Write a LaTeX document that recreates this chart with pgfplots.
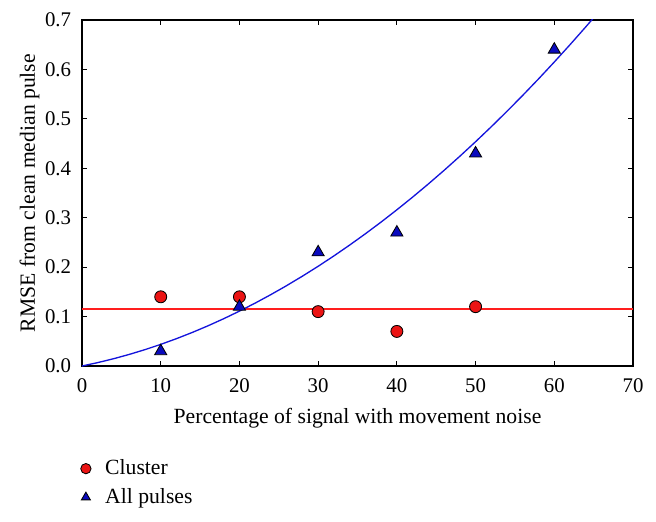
\documentclass[border=0pt]{standalone}
\usepackage{fontspec}
\setmainfont{Liberation Serif}
\usepackage{pgfplots}
\pgfplotsset{compat=1.18}
\definecolor{ptred}{RGB}{235,20,20}
\definecolor{ptblue}{RGB}{10,10,190}
\definecolor{fitblue}{RGB}{20,20,220}
\definecolor{fitred}{RGB}{255,30,30}

\begin{document}
\fontsize{13}{15}\selectfont
\begin{tikzpicture}
\begin{axis}[
    width=330.6pt, height=207.6pt, scale only axis,
    xmin=0, xmax=70, ymin=0, ymax=0.7,
    xtick={0,10,...,70}, ytick={0,0.1,...,0.7},
    yticklabel style={/pgf/number format/fixed, /pgf/number format/fixed zerofill,
        /pgf/number format/precision=1, xshift=-2pt},
    /pgf/number format/assume math mode=true,
    tick label style={font=\fontsize{12.5}{14}\selectfont},
    xticklabel style={yshift=-3pt},
    tick align=inside, major tick length=3pt,
    axis line style={line width=0.8pt}, tick style={line width=0.6pt, black},
    xlabel={Percentage of signal with movement noise},
    ylabel={RMSE from clean median pulse},
    label style={font=\fontsize{13}{15}\selectfont},
    xlabel style={at={(axis description cs:0.5,-0.150)}, anchor=center},
    ylabel style={at={(axis description cs:-0.095,0.5)}, anchor=center},
    legend style={at={(axis description cs:-0.012,-0.25)}, anchor=north west,
        draw=none, fill=none, row sep=2.2pt, column sep=6.5pt,
        font=\fontsize{13}{15}\selectfont},
    legend image post style={mark size=3.1pt},
    legend cell align=left,
    clip=true,
]
\addplot[only marks, mark=*, mark size=3.6pt, mark options={fill=ptred, draw=black, line width=0.5pt}]
    coordinates {(10,0.14)(20,0.14)(30,0.11)(40,0.07)(50,0.12)};
\addlegendentry{Cluster}
\addplot[only marks, mark=triangle*, mark size=4.2pt, mark options={fill=ptblue, draw=black, line width=0.5pt}]
    coordinates {(10,0.03)(20,0.12)(30,0.23)(40,0.27)(50,0.43)(60,0.64)};
\addlegendentry{All pulses}
\addplot[color=fitred, line width=0.8pt, forget plot] coordinates {(0,0.115)(70,0.115)};
\addplot[color=fitblue, line width=0.8pt, forget plot] coordinates {
    (0,0)(2,0.00687)(4,0.01468)(6,0.02343)(8,0.03312)(10,0.04375)
    (12,0.05532)(14,0.06783)(16,0.08128)(18,0.09567)(20,0.111)
    (22,0.12727)(24,0.14448)(26,0.16263)(28,0.18172)(30,0.20175)
    (32,0.22272)(34,0.24463)(36,0.26748)(38,0.29127)(40,0.316)
    (42,0.34167)(44,0.36828)(46,0.39583)(48,0.42432)(50,0.45375)
    (52,0.48412)(54,0.51543)(56,0.54768)(58,0.58087)(60,0.615)
    (62,0.65007)(64,0.68608)(66,0.72303)};
\end{axis}
\pgfresetboundingbox
\path (current axis.south west)+(-49.2pt,-93pt) rectangle ([shift={(13.8pt,12pt)}]current axis.north east);
\end{tikzpicture}
\end{document}
